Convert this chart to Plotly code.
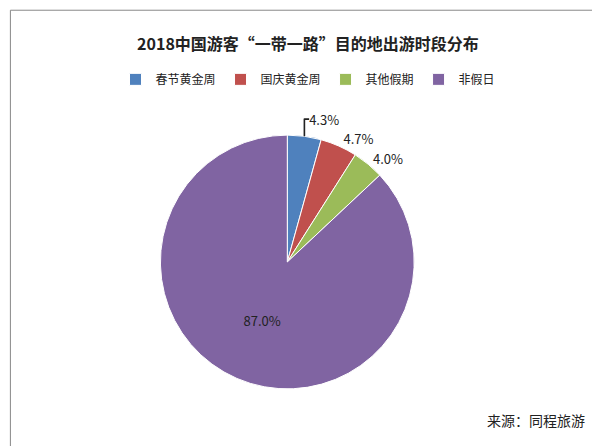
import plotly.graph_objects as go

labels = ["春节黄金周", "国庆黄金周", "其他假期", "非假日"]
values = [4.3, 4.7, 4.0, 87.0]
colors = ["#4F81BD", "#C0504D", "#9BBB59", "#8064A2"]

fig = go.Figure(go.Pie(
    labels=labels, values=values, sort=False, direction="clockwise", rotation=0,
    marker=dict(colors=colors, line=dict(color="white", width=1)),
    texttemplate="%{value:.1f}%",
    textposition=["outside", "outside", "outside", "inside"],
    textfont=dict(size=13, color="#222"),
    insidetextfont=dict(size=13, color="#222"),
    insidetextorientation="horizontal",
    domain=dict(x=[0.254, 0.677], y=[0.146, 0.715]),
))
fig.update_layout(
    width=600, height=446, paper_bgcolor="white",
    font=dict(family="Noto Sans CJK SC", color="#222"),
    margin=dict(l=0, r=0, t=0, b=0),
    title=dict(text="<b>2018中国游客“一带一路”目的地出游时段分布</b>",
               x=0.5, y=0.93, xanchor="center", font=dict(size=16)),
    legend=dict(orientation="h", x=0.5, xanchor="center", y=0.84, yanchor="middle",
                font=dict(size=12), traceorder="normal"),
    annotations=[dict(text="来源：同程旅游", x=0.965, y=0.05, xref="paper", yref="paper",
                      xanchor="right", yanchor="bottom", showarrow=False, font=dict(size=14))],
    shapes=[dict(type="rect", xref="paper", yref="paper", x0=0.004, y0=0.01, x1=0.975, y1=0.995,
                 line=dict(color="#888", width=1))],
)
fig.write_html("out.html")
